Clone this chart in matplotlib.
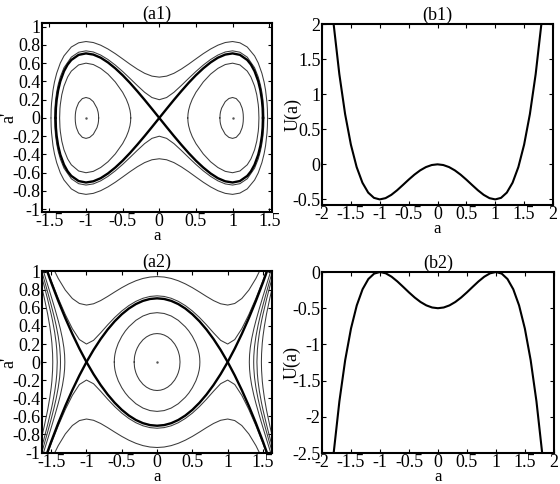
import numpy as np
import matplotlib
matplotlib.use("Agg")
import matplotlib.pyplot as plt

plt.rcParams["font.family"] = ["Liberation Serif", "DejaVu Serif"]
plt.rcParams["axes.unicode_minus"] = False
plt.rcParams["font.size"] = 13

# ---- (a1) phase orbits (a >= 0 half, upper branch a') ----
# small loops round the wells at a = +-1
a1_small_a = [0.827, 0.83, 0.835, 0.85, 0.9, 0.95, 1.0, 1.05, 1.1, 1.13, 1.14, 1.145, 1.147]
a1_small_v = [0, 0.040, 0.065, 0.107, 0.179, 0.213, 0.224, 0.212, 0.167, 0.108, 0.072, 0.040, 0]
# middle loops inside the separatrix
a1_mid_a = [0.389, 0.392, 0.40, 0.42, 0.45, 0.5, 0.6, 0.7, 0.8, 0.9, 1.0, 1.1, 1.2, 1.25,
            1.3, 1.33, 1.35, 1.355, 1.3595]
a1_mid_v = [0, 0.043, 0.085, 0.144, 0.205, 0.281, 0.394, 0.480, 0.543, 0.585, 0.600, 0.581,
            0.513, 0.449, 0.349, 0.254, 0.148, 0.103, 0]
# separatrix (figure eight)
a1_sep_a = [0, 0.1, 0.2, 0.3, 0.4, 0.5, 0.6, 0.7, 0.8, 0.9, 1.0, 1.1, 1.2, 1.25, 1.3, 1.35,
            1.38, 1.4, 1.41, 1.414]
a1_sep_v = [0, 0.0997, 0.198, 0.293, 0.384, 0.468, 0.543, 0.608, 0.660, 0.694, 0.707, 0.691,
            0.635, 0.585, 0.512, 0.402, 0.302, 0.198, 0.109, 0]
# orbits outside the separatrix
a1_out1_a = [0, 0.1, 0.2, 0.3, 0.4, 0.5, 0.6, 0.7, 0.8, 0.9, 1.0, 1.1, 1.2, 1.3, 1.35, 1.38,
             1.4, 1.415, 1.425, 1.428]
a1_out1_v = [0.2, 0.2235, 0.281, 0.355, 0.433, 0.509, 0.579, 0.640, 0.689, 0.7225, 0.735,
             0.720, 0.666, 0.550, 0.449, 0.362, 0.281, 0.194, 0.094, 0]
a1_out2_a = [0, 0.1, 0.2, 0.3, 0.4, 0.5, 0.6, 0.7, 0.8, 0.9, 1.0, 1.1, 1.2, 1.3, 1.35, 1.4,
             1.43, 1.45, 1.47, 1.475, 1.4776]
a1_out2_v = [0.447, 0.458, 0.489, 0.535, 0.589, 0.647, 0.704, 0.755, 0.797, 0.826, 0.837,
             0.823, 0.777, 0.680, 0.602, 0.489, 0.393, 0.304, 0.162, 0.095, 0]

# ---- (a2) phase orbits ----
a2_in1_a = [0, 0.05, 0.1, 0.15, 0.2, 0.25, 0.28, 0.3, 0.315, 0.32, 0.325]
a2_in1_v = [0.316, 0.312, 0.300, 0.279, 0.247, 0.199, 0.157, 0.119, 0.076, 0.053, 0]
a2_in2_a = [0, 0.1, 0.2, 0.3, 0.4, 0.45, 0.5, 0.55, 0.58, 0.595, 0.6, 0.604, 0.6063]
a2_in2_v = [0.548, 0.539, 0.511, 0.463, 0.391, 0.344, 0.285, 0.208, 0.142, 0.093, 0.069, 0.042, 0]
a2_sep_a = [0, 0.1, 0.2, 0.3, 0.4, 0.5, 0.6, 0.7, 0.8, 0.9, 1.0, 1.1, 1.2, 1.3, 1.4, 1.5, 1.6]
a2_sep_v = [0.7071, 0.700, 0.6788, 0.6435, 0.594, 0.5303, 0.4525, 0.3606, 0.2546, 0.1344, 0,
            -0.1485, -0.3111, -0.4879, -0.6788, -0.8839, -1.1031]
a2_top1_a = [0, 0.1, 0.2, 0.3, 0.4, 0.5, 0.6, 0.7, 0.8, 0.9, 1.0, 1.1, 1.2, 1.3, 1.4, 1.5, 1.6]
a2_top1_v = [0.7348, 0.728, 0.7077, 0.6738, 0.6267, 0.5668, 0.4948, 0.4124, 0.3237, 0.2409,
             0.2, 0.2491, 0.3699, 0.5273, 0.7077, 0.9062, 1.1211]
a2_top2_a = [0, 0.1, 0.2, 0.3, 0.4, 0.5, 0.6, 0.7, 0.8, 0.9, 1.0, 1.1, 1.2, 1.3, 1.4, 1.5]
a2_top2_v = [0.9487, 0.9434, 0.9278, 0.9022, 0.8676, 0.8254, 0.7777, 0.728, 0.6818, 0.6466,
             0.6325, 0.6497, 0.7048, 0.7988, 0.9278, 1.0869]
# branches at the sides (|a| > 1.3)
a2_side_a = [
    [1.3066, 1.31, 1.32, 1.34, 1.37, 1.4, 1.45, 1.5, 1.55, 1.6, 1.65],
    [1.3682, 1.37, 1.38, 1.4, 1.43, 1.46, 1.5, 1.55, 1.6, 1.65],
    [1.4142, 1.42, 1.43, 1.45, 1.48, 1.5, 1.55, 1.6, 1.65],
    [1.4776, 1.48, 1.49, 1.5, 1.52, 1.55, 1.6, 1.65],
]
a2_side_v = [
    [0, 0.080, 0.160, 0.258, 0.367, 0.459, 0.598, 0.729, 0.857, 0.983, 1.111],
    [0, 0.067, 0.170, 0.284, 0.407, 0.510, 0.633, 0.777, 0.915, 1.051],
    [0, 0.129, 0.214, 0.328, 0.457, 0.530, 0.695, 0.847, 0.992],
    [0, 0.092, 0.211, 0.285, 0.398, 0.533, 0.719, 0.885],
]

# ---- (b1), (b2) potentials, a >= 0 half ----
b_a = [0, 0.1, 0.2, 0.3, 0.4, 0.5, 0.6, 0.7, 0.8, 0.9, 1.0, 1.1, 1.2, 1.3, 1.4, 1.5, 1.6, 1.7, 1.8]
b1_U = [0, -0.00995, -0.0392, -0.08595, -0.1472, -0.21875, -0.2952, -0.36995, -0.4352, -0.48195,
        -0.5, -0.47795, -0.4032, -0.26195, -0.0392, 0.28125, 0.7168, 1.28605, 2.0088]
b2_U = [-0.5, -0.49005, -0.4608, -0.41405, -0.3528, -0.28125, -0.2048, -0.13005, -0.0648,
        -0.01805, 0, -0.02205, -0.0968, -0.23805, -0.4608, -0.78125, -1.2168, -1.78605, -2.5088]

THIN = dict(color="#3a3a3a", lw=0.75)
THICK = dict(color="black", lw=1.7)


def sym(x, y):
    # even mirror of a half curve given for a >= 0
    x = np.asarray(x, float)
    y = np.asarray(y, float)
    return np.concatenate([-x[::-1], x[1:]]), np.concatenate([y[::-1], y[1:]])


def loop(x, y):
    x = np.asarray(x, float)
    y = np.asarray(y, float)
    return np.concatenate([x, x[::-1]]), np.concatenate([y, -y[::-1]])


def style(ax, title):
    ax.set_title(title, fontsize=13, pad=3)
    ax.tick_params(direction="in", top=True, right=True, length=3, width=0.8,
                   labelsize=13, pad=1)
    for s in ax.spines.values():
        s.set_linewidth(1.5)


fig = plt.figure(figsize=(5.6, 4.84), dpi=100)
ax1 = fig.add_axes([0.075, 0.562, 0.411, 0.3905])
ax2 = fig.add_axes([0.575, 0.5764, 0.4125, 0.374])
ax3 = fig.add_axes([0.075, 0.064, 0.411, 0.376])
ax4 = fig.add_axes([0.575, 0.064, 0.414, 0.374])

# (a1)
for xa, va in [(a1_small_a, a1_small_v), (a1_mid_a, a1_mid_v)]:
    for sg in (1, -1):
        lx, ly = loop(np.asarray(xa) * sg, va)
        ax1.plot(lx, ly, **THIN)
for xa, va, st in [(a1_out2_a, a1_out2_v, THIN), (a1_out1_a, a1_out1_v, THIN),
                   (a1_sep_a, a1_sep_v, THICK)]:
    X, Y = sym(xa, va)
    ax1.plot(X, Y, **st)
    ax1.plot(X, -Y, **st)
ax1.plot([-1, 1], [0, 0], ls="none", marker=".", ms=1.5, color="#555555")
ax1.set_xlim(-1.6, 1.54)
ax1.set_ylim(-1.03, 1.04)
ax1.set_xticks([-1.5, -1, -0.5, 0, 0.5, 1, 1.5])
ax1.set_xticklabels(["-1.5", "-1", "-0.5", "0", "0.5", "1", "1.5"])
ax1.set_yticks(np.round(np.arange(-1, 1.01, 0.2), 1))
ax1.set_yticklabels(["-1", "-0.8", "-0.6", "-0.4", "-0.2", "0", "0.2", "0.4", "0.6", "0.8", "1"])
ax1.set_xlabel("a", fontsize=12, labelpad=-2)
ax1.set_ylabel("a'")
ax1.yaxis.set_label_coords(-0.108, 0.5)
style(ax1, "(a1)")

# (b1)
X, Y = sym(b_a, b1_U)
ax2.plot(X, Y, color="black", lw=1.5)
ax2.set_xlim(-2, 2)
ax2.set_ylim(-0.58, 2)
ax2.set_xticks([-2, -1.5, -1, -0.5, 0, 0.5, 1, 1.5, 2])
ax2.set_xticklabels(["-2", "-1.5", "-1", "-0.5", "0", "0.5", "1", "1.5", "2"])
ax2.set_yticks([-0.5, 0, 0.5, 1, 1.5, 2])
ax2.set_yticklabels(["-0.5", "0", "0.5", "1", "1.5", "2"])
ax2.set_xlabel("a", fontsize=12, labelpad=-2)
ax2.set_ylabel("U(a)")
ax2.yaxis.set_label_coords(-0.09, 0.5)
style(ax2, "(b1)")

# (a2)
for xa, va in [(a2_in1_a, a2_in1_v), (a2_in2_a, a2_in2_v)]:
    X, Y = sym(xa, va)
    lx, ly = loop(X, Y)
    ax3.plot(lx, ly, **THIN)
for xa, va in zip(a2_side_a, a2_side_v):
    x = np.asarray(xa)
    v = np.asarray(va)
    bx = np.concatenate([x[::-1], x[1:]])
    by = np.concatenate([-v[::-1], v[1:]])
    ax3.plot(bx, by, **THIN)
    ax3.plot(-bx, by, **THIN)
for xa, va, st in [(a2_top2_a, a2_top2_v, THIN), (a2_top1_a, a2_top1_v, THIN),
                   (a2_sep_a, a2_sep_v, THICK)]:
    X, Y = sym(xa, va)
    ax3.plot(X, Y, **st)
    ax3.plot(X, -Y, **st)
ax3.plot([0], [0], ls="none", marker=".", ms=1.5, color="#555555")
ax3.set_xlim(-1.63, 1.63)
ax3.set_ylim(-1.01, 1.01)
ax3.set_xticks([-1.5, -1, -0.5, 0, 0.5, 1, 1.5])
ax3.set_xticklabels(["-1.5", "-1", "-0.5", "0", "0.5", "1", "1.5"])
ax3.set_yticks(np.round(np.arange(-1, 1.01, 0.2), 1))
ax3.set_yticklabels(["-1", "-0.8", "-0.6", "-0.4", "-0.2", "0", "0.2", "0.4", "0.6", "0.8", "1"])
ax3.set_xlabel("a", fontsize=12, labelpad=-2)
ax3.set_ylabel("a'")
ax3.yaxis.set_label_coords(-0.108, 0.5)
style(ax3, "(a2)")

# (b2)
X, Y = sym(b_a, b2_U)
ax4.plot(X, Y, color="black", lw=1.5)
ax4.set_xlim(-2, 2)
ax4.set_ylim(-2.5, 0)
ax4.set_xticks([-2, -1.5, -1, -0.5, 0, 0.5, 1, 1.5, 2])
ax4.set_xticklabels(["-2", "-1.5", "-1", "-0.5", "0", "0.5", "1", "1.5", "2"])
ax4.set_yticks([-2.5, -2, -1.5, -1, -0.5, 0])
ax4.set_yticklabels(["-2.5", "-2", "-1.5", "-1", "-0.5", "0"])
ax4.set_xlabel("a", fontsize=12, labelpad=-2)
ax4.set_ylabel("U(a)")
ax4.yaxis.set_label_coords(-0.09, 0.5)
style(ax4, "(b2)")

fig.savefig("out.png", dpi=100)
